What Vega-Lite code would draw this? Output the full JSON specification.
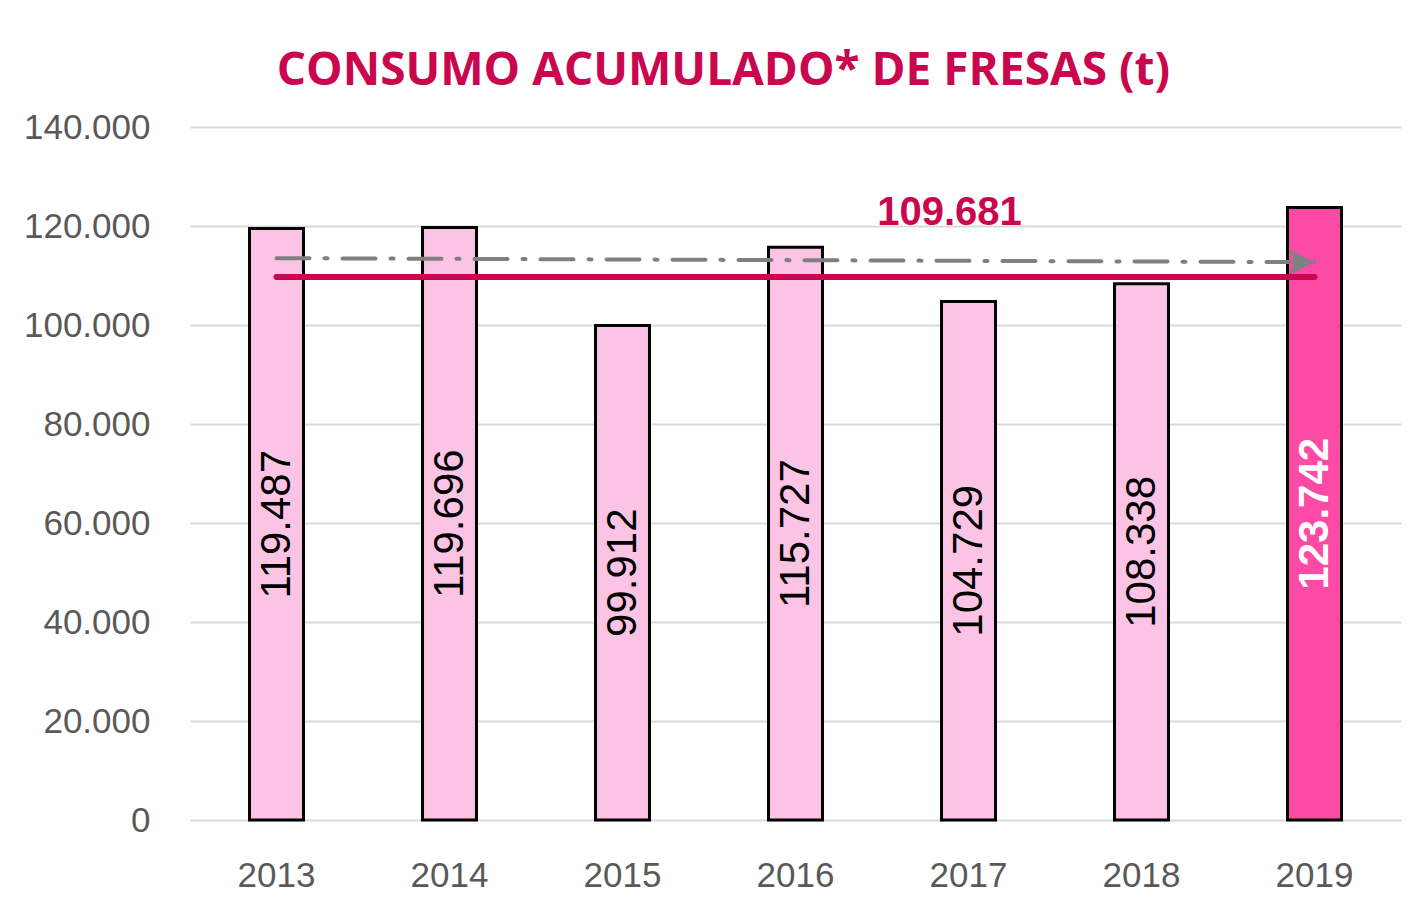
{
  "$schema": "https://vega.github.io/schema/vega-lite/v6.json",
  "autosize": "none",
  "width": 1211,
  "height": 693,
  "padding": {"left": 190, "top": 127, "right": 16, "bottom": 100},
  "background": "white",
  "config": {
    "locale": {"number": {"decimal": ",", "thousands": ".", "grouping": [3], "currency": ["", " €"]}},
    "view": {"stroke": null},
    "font": "Liberation Sans"
  },
  "title": {
    "text": "CONSUMO ACUMULADO* DE FRESAS (t)",
    "font": "Open Sans",
    "fontWeight": "bold",
    "fontSize": 46,
    "color": "#c9074f",
    "anchor": "middle",
    "frame": "group",
    "baseline": "alphabetic",
    "offset": -21,
    "dx": -72
  },
  "resolve": {"scale": {"color": "independent", "y": "independent"}},
  "datasets": {
    "bars": [
      {"year": "2013", "value": 119487, "highlight": "no"},
      {"year": "2014", "value": 119696, "highlight": "no"},
      {"year": "2015", "value": 99912, "highlight": "no"},
      {"year": "2016", "value": 115727, "highlight": "no"},
      {"year": "2017", "value": 104729, "highlight": "no"},
      {"year": "2018", "value": 108338, "highlight": "no"},
      {"year": "2019", "value": 123742, "highlight": "yes"}
    ],
    "avg": [
      {"year": "2013", "value": 109681},
      {"year": "2019", "value": 109681}
    ],
    "avglabel": [
      {"year": "2017", "value": 109681}
    ],
    "trend": [
      {"year": "2013", "value": 113500},
      {"year": "2019", "value": 112700}
    ],
    "arrow": [
      {"year": "2019", "value": 112700}
    ]
  },
  "encoding": {
    "x": {
      "field": "year",
      "type": "ordinal",
      "scale": {"paddingInner": 0.688, "paddingOuter": 0.344},
      "axis": {
        "title": null,
        "labelAngle": 0,
        "labelFontSize": 35,
        "labelColor": "#595959",
        "labelPadding": 38,
        "ticks": false,
        "domain": false
      }
    }
  },
  "layer": [
    {
      "data": {"name": "bars"},
      "mark": {"type": "bar", "stroke": "black", "strokeWidth": 3},
      "encoding": {
        "y": {
          "field": "value",
          "type": "quantitative",
          "scale": {"domain": [0, 140000], "nice": false},
          "axis": {
            "title": null,
            "values": [0, 20000, 40000, 60000, 80000, 100000, 120000, 140000],
            "format": ",d",
            "labelFontSize": 35,
            "labelColor": "#595959",
            "labelPadding": 40,
            "ticks": false,
            "domain": false,
            "gridColor": "#d9d9d9",
            "gridWidth": 2
          }
        },
        "color": {
          "field": "highlight",
          "type": "nominal",
          "scale": {"domain": ["no", "yes"], "range": ["#fcc4e4", "#fd4ba5"]},
          "legend": null
        }
      }
    },
    {
      "data": {"name": "bars"},
      "transform": [{"filter": "datum.highlight === 'no'"}],
      "mark": {"type": "text", "angle": 270, "align": "center", "baseline": "middle", "fontSize": 42, "color": "black"},
      "encoding": {
        "y": {"field": "value", "type": "quantitative", "scale": {"domain": [0, 280000], "nice": false}, "axis": null},
        "text": {"field": "value", "type": "quantitative", "format": ",d"}
      }
    },
    {
      "data": {"name": "bars"},
      "transform": [{"filter": "datum.highlight === 'yes'"}],
      "mark": {"type": "text", "angle": 270, "align": "center", "baseline": "middle", "fontSize": 42, "fontWeight": "bold", "color": "white"},
      "encoding": {
        "y": {"field": "value", "type": "quantitative", "scale": {"domain": [0, 280000], "nice": false}, "axis": null},
        "text": {"field": "value", "type": "quantitative", "format": ",d"}
      }
    },
    {
      "data": {"name": "trend"},
      "mark": {"type": "line", "color": "#808080", "strokeWidth": 4, "strokeDash": [33, 15, 3, 15], "strokeCap": "round"},
      "encoding": {
        "y": {"field": "value", "type": "quantitative", "scale": {"domain": [0, 140000], "nice": false}, "axis": null}
      }
    },
    {
      "data": {"name": "arrow"},
      "mark": {"type": "point", "shape": "M -1 -1 L 1 0 L -1 1 L -0.5 0 Z", "filled": true, "color": "#808080", "opacity": 1, "size": 676, "xOffset": -13},
      "encoding": {
        "y": {"field": "value", "type": "quantitative", "scale": {"domain": [0, 140000], "nice": false}, "axis": null}
      }
    },
    {
      "data": {"name": "avg"},
      "mark": {"type": "line", "color": "#c9074f", "strokeWidth": 6, "strokeCap": "round"},
      "encoding": {
        "y": {"field": "value", "type": "quantitative", "scale": {"domain": [0, 140000], "nice": false}, "axis": null}
      }
    },
    {
      "data": {"name": "avglabel"},
      "mark": {"type": "text", "color": "#c9074f", "fontWeight": "bold", "fontSize": 40, "font": "Liberation Sans", "baseline": "alphabetic", "align": "center", "dy": -52, "dx": -19},
      "encoding": {
        "y": {"field": "value", "type": "quantitative", "scale": {"domain": [0, 140000], "nice": false}, "axis": null},
        "text": {"field": "value", "type": "quantitative", "format": ",d"}
      }
    }
  ]
}
